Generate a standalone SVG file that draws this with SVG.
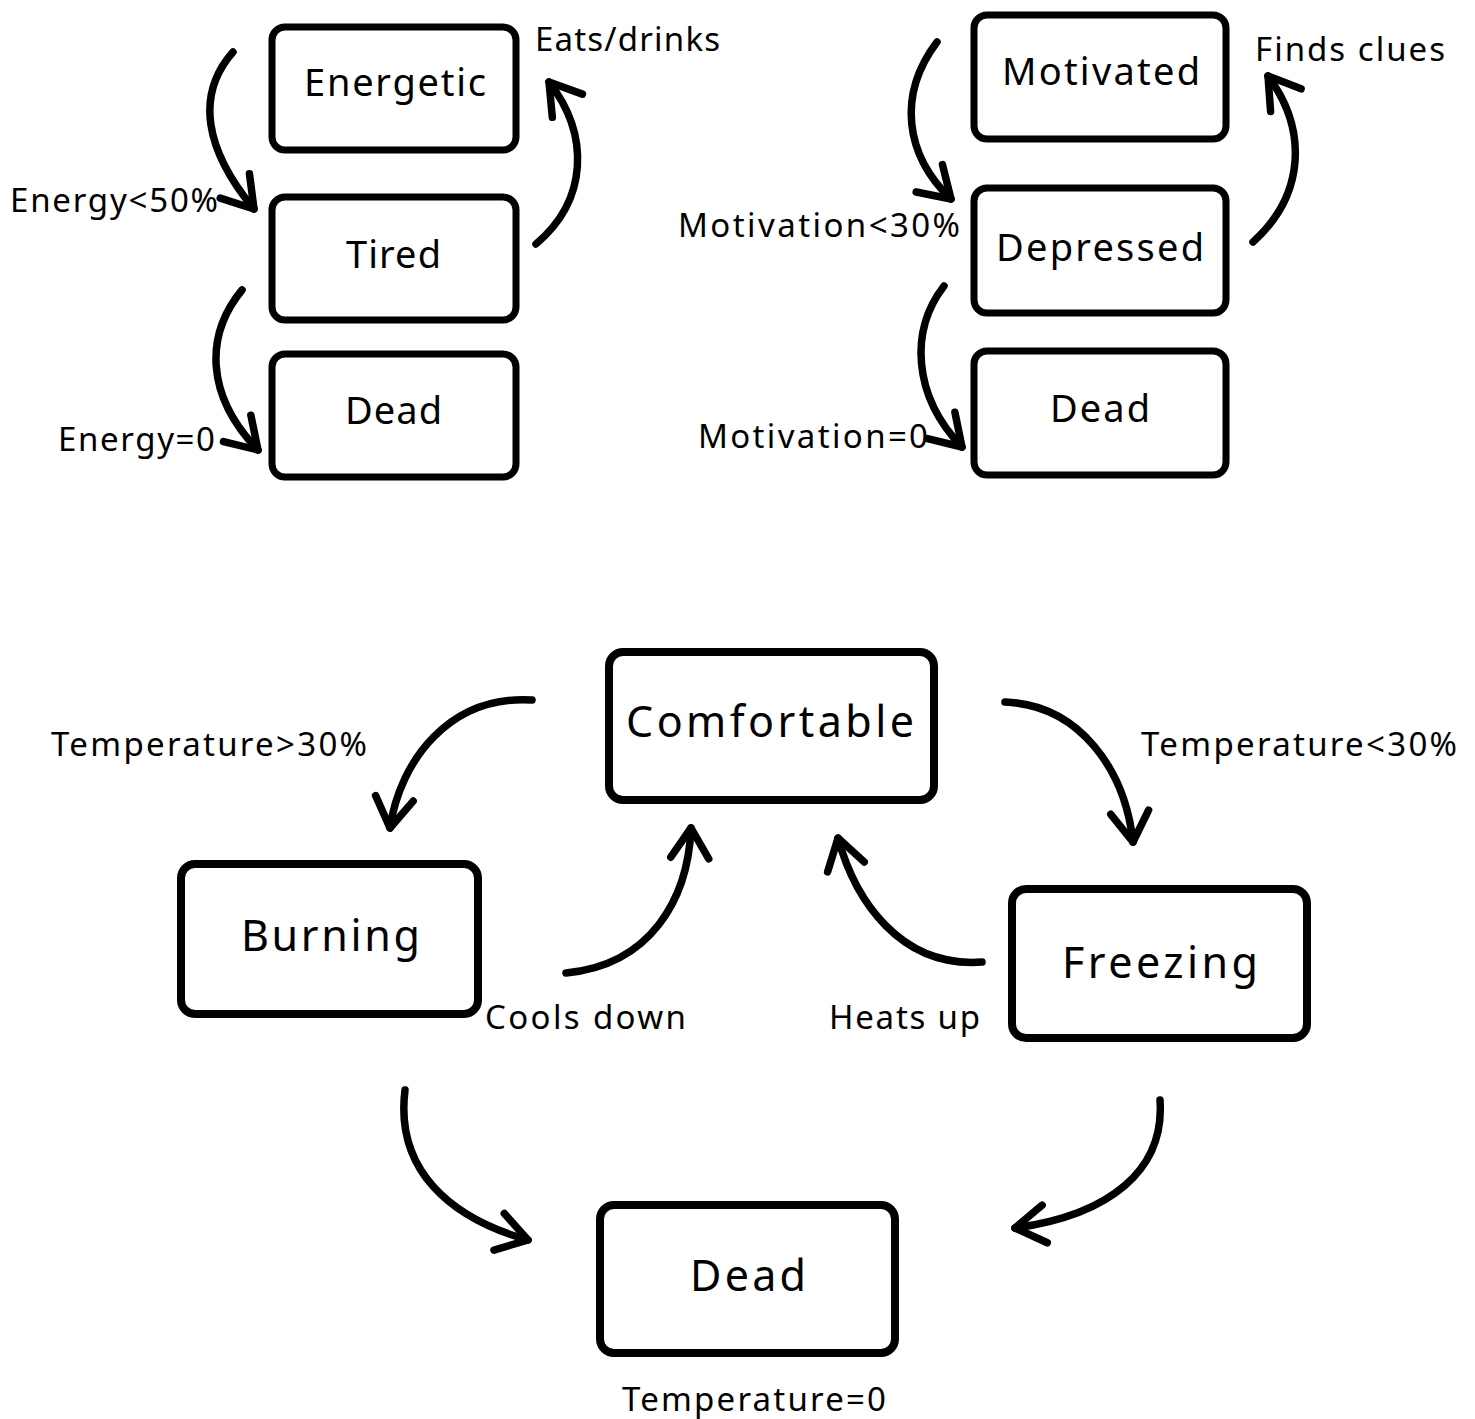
<svg xmlns="http://www.w3.org/2000/svg" width="1475" height="1419" viewBox="0 0 1475 1419">
<style>
.box{fill:#fff;stroke:#000;stroke-width:7;}
.bbox{fill:#fff;stroke:#000;stroke-width:8;}
.nt{font-family:"Noto Sans","Open Sans",sans-serif;font-size:38px;fill:#000;text-anchor:middle;}
.bt{font-family:"Noto Sans","Open Sans",sans-serif;font-size:43px;fill:#000;text-anchor:middle;}
.lb{font-family:"Noto Sans","Open Sans",sans-serif;font-size:33px;fill:#000;text-anchor:middle;}
.arr{fill:none;stroke:#000;stroke-width:7.5;stroke-linecap:round;marker-end:url(#head);}
</style>
<defs>
<marker id="head" markerUnits="userSpaceOnUse" viewBox="-40 -40 50 80" refX="0" refY="0" markerWidth="50" markerHeight="80" orient="auto" overflow="visible">
<path d="M -30 -19 L 0 0 L -30 19" fill="none" stroke="#000" stroke-width="7.5" stroke-linecap="round" stroke-linejoin="round"/>
</marker>
</defs>
<rect width="1475" height="1419" fill="#fff"/>

<g id="connectors">
<path class="arr" d="M 233 52 C 195 95, 205 150, 254 209"/>
<path class="arr" d="M 242 290 C 205 335, 205 395, 258 450"/>
<path class="arr" d="M 536 244 C 588 200, 590 135, 549 82"/>
<path class="arr" d="M 937 42 C 897 95, 905 155, 951 199"/>
<path class="arr" d="M 944 286 C 910 330, 912 395, 962 447"/>
<path class="arr" d="M 1253 242 C 1305 195, 1308 130, 1268 76"/>
<path class="arr" d="M 532 700 C 450 695, 400 760, 390 828"/>
<path class="arr" d="M 1005 702 C 1080 705, 1125 770, 1133 842"/>
<path class="arr" d="M 982 962 C 900 968, 855 900, 838 838"/>
<path class="arr" d="M 566 973 C 650 965, 688 900, 691 828"/>
<path class="arr" d="M 405 1090 C 395 1170, 450 1218, 528 1240"/>
<path class="arr" d="M 1160 1100 C 1165 1170, 1110 1215, 1015 1228"/>
</g>

<g id="labels">
<text class="lb" x="627.5" y="51" textLength="185" lengthAdjust="spacing">Eats/drinks</text>
<text class="lb" x="114" y="212" textLength="208" lengthAdjust="spacing">Energy&lt;50%</text>
<text class="lb" x="136.5" y="451" textLength="157" lengthAdjust="spacing">Energy=0</text>
<text class="lb" x="1350" y="61" textLength="190" lengthAdjust="spacing">Finds clues</text>
<text class="lb" x="819" y="237" textLength="282" lengthAdjust="spacing">Motivation&lt;30%</text>
<text class="lb" x="813" y="448" textLength="230" lengthAdjust="spacing">Motivation=0</text>
<text class="lb" x="209" y="756" textLength="316" lengthAdjust="spacing">Temperature&gt;30%</text>
<text class="lb" x="1299" y="756" textLength="316" lengthAdjust="spacing">Temperature&lt;30%</text>
<text class="lb" x="585.5" y="1029" textLength="201" lengthAdjust="spacing">Cools down</text>
<text class="lb" x="904.5" y="1029" textLength="151" lengthAdjust="spacing">Heats up</text>
<text class="lb" x="754" y="1411" textLength="264" lengthAdjust="spacing">Temperature=0</text>
</g>

<g id="node-energetic">
<rect class="box" x="272" y="27" width="244" height="123" rx="13"/>
<text class="nt" x="395" y="96" textLength="182" lengthAdjust="spacing">Energetic</text>
</g>
<g id="node-tired">
<rect class="box" x="272" y="197" width="244" height="123" rx="13"/>
<text class="nt" x="393.5" y="268" textLength="95" lengthAdjust="spacing">Tired</text>
</g>
<g id="node-dead-energy">
<rect class="box" x="272" y="354" width="244" height="123" rx="13"/>
<text class="nt" x="393.5" y="424" textLength="97" lengthAdjust="spacing">Dead</text>
</g>
<g id="node-motivated">
<rect class="box" x="974" y="15" width="252" height="124" rx="13"/>
<text class="nt" x="1101" y="85" textLength="198" lengthAdjust="spacing">Motivated</text>
</g>
<g id="node-depressed">
<rect class="box" x="974" y="188" width="252" height="125" rx="13"/>
<text class="nt" x="1100" y="261" textLength="208" lengthAdjust="spacing">Depressed</text>
</g>
<g id="node-dead-motivation">
<rect class="box" x="974" y="351" width="252" height="124" rx="13"/>
<text class="nt" x="1100" y="422" textLength="100" lengthAdjust="spacing">Dead</text>
</g>
<g id="node-comfortable">
<rect class="bbox" x="609" y="652" width="325" height="148" rx="14"/>
<text class="bt" x="770" y="737" textLength="288" lengthAdjust="spacing">Comfortable</text>
</g>
<g id="node-burning">
<rect class="bbox" x="181" y="864" width="297" height="150" rx="14"/>
<text class="bt" x="330.5" y="951" textLength="179" lengthAdjust="spacing">Burning</text>
</g>
<g id="node-freezing">
<rect class="bbox" x="1012" y="889" width="295" height="149" rx="14"/>
<text class="bt" x="1160" y="978" textLength="196" lengthAdjust="spacing">Freezing</text>
</g>
<g id="node-dead-temperature">
<rect class="bbox" x="600" y="1205" width="295" height="148" rx="14"/>
<text class="bt" x="748" y="1291" textLength="116" lengthAdjust="spacing">Dead</text>
</g>
</svg>
